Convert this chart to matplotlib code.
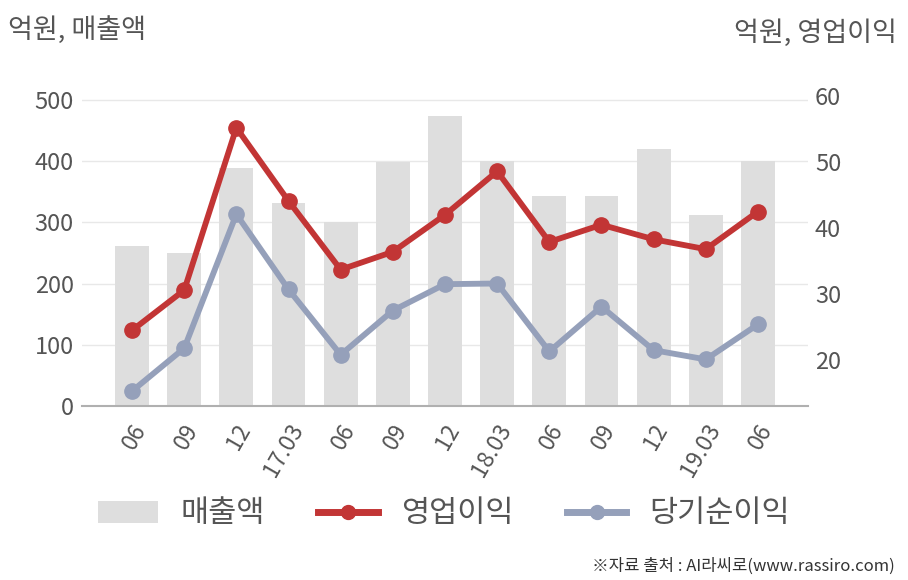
import matplotlib
matplotlib.use("Agg")
import matplotlib.pyplot as plt
import matplotlib.transforms as mtransforms
from matplotlib.lines import Line2D
from matplotlib.patches import Patch

plt.rcParams['font.family'] = ['Noto Sans CJK KR', 'DejaVu Sans']

categories = ["06", "09", "12", "17.03", "06", "09", "12", "18.03", "06", "09", "12", "19.03", "06"]
sales = [262, 250, 389, 332, 301, 398, 474, 400, 343, 343, 420, 312, 400]
op_profit = [24.5, 30.6, 55.2, 44.1, 33.7, 36.4, 42.0, 48.6, 37.9, 40.5, 38.3, 36.8, 42.5]
net_profit = [15.3, 21.8, 42.1, 30.7, 20.8, 27.5, 31.5, 31.6, 21.3, 28.1, 21.5, 20.1, 25.4]

left_ticks = [0, 100, 200, 300, 400, 500]
right_ticks = [20, 30, 40, 50, 60]

W, H = 908, 580
fig = plt.figure(figsize=(W / 100, H / 100), dpi=100)
ax = fig.add_axes([82 / W, 1 - 406 / H, 726 / W, 311 / H])
ax2 = ax.twinx()

bar_color = "#dedede"
red = "#c23535"
blue = "#95a0ba"
txt = "#555555"

x = list(range(len(categories)))
ax.bar(x, sales, width=0.65, color=bar_color, zorder=2)
ax.set_yticks(left_ticks)
ax.set_xlim(-0.96, len(categories) - 1 + 0.96)
ax.set_ylim(0, 508.2)
ax.grid(axis="y", color="#e8e8e8", linewidth=1.0, zorder=0)
ax.set_axisbelow(True)

ax2.plot(x, op_profit, color=red, linewidth=4.2, marker="o", markersize=11, zorder=5, clip_on=False)
ax2.plot(x, net_profit, color=blue, linewidth=4.2, marker="o", markersize=11, zorder=4, clip_on=False)
ax2.set_yticks(right_ticks)
ax2.set_ylim(13.04, 60.16)

for a in (ax, ax2):
    for s in a.spines.values():
        s.set_visible(False)
ax.spines["bottom"].set_visible(True)
ax.spines["bottom"].set_color("#b0b0b0")
ax.spines["bottom"].set_linewidth(1.5)

ax.tick_params(axis="y", length=0, pad=6, labelsize=17, labelcolor=txt)
ax2.tick_params(axis="y", length=0, pad=5, labelsize=17, labelcolor=txt)
ax.tick_params(axis="x", length=0, pad=4)

ax.set_xticks(x)
ax.set_xticklabels(categories, rotation=60, ha="right", va="center",
                   rotation_mode="anchor", fontsize=16.5, color=txt)
offset = mtransforms.ScaledTranslation(9 / 100, -14 / 100, fig.dpi_scale_trans)
for lab in ax.get_xticklabels():
    lab.set_transform(lab.get_transform() + offset)

fig.text(8 / W, 1 - 30 / H, "억원, 매출액", fontsize=19.5, color=txt, ha="left", va="center")
fig.text(897 / W, 1 - 33 / H, "억원, 영업이익", fontsize=19.5, color=txt, ha="right", va="center")

handles = [
    Patch(facecolor=bar_color, edgecolor="none"),
    Line2D([0], [0], color=red, linewidth=5, marker="o", markersize=10),
    Line2D([0], [0], color=blue, linewidth=5, marker="o", markersize=10),
]
fig.legend(handles, ["매출액", "영업이익", "당기순이익"], loc="center",
           bbox_to_anchor=(444 / W, 1 - 514 / H), ncol=3, frameon=False,
           fontsize=22, labelcolor=txt, handlelength=1.95, handleheight=0.7,
           columnspacing=1.75, handletextpad=0.75)

fig.text(895 / W, 1 - 566 / H, "※자료 출처 : AI라씨로(www.rassiro.com)", fontsize=12,
         color="#333333", ha="right", va="center")

fig.savefig("out.png", dpi=100)
